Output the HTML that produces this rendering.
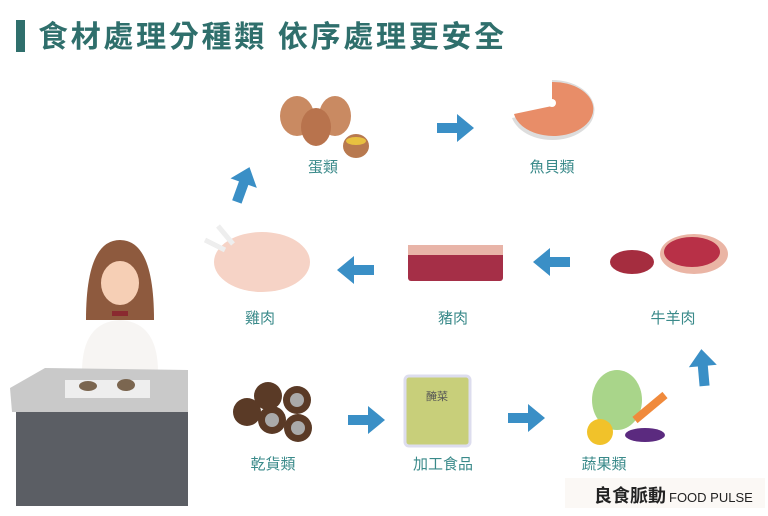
<!DOCTYPE html>
<html><head><meta charset="utf-8"><style>
body{margin:0;width:768px;height:516px;background:#fff;overflow:hidden;position:relative;font-family:"Liberation Sans","Noto Sans CJK TC",sans-serif}
.t{position:absolute;left:38px;top:12px;font-size:30px;font-weight:bold;color:#2f6f6c;letter-spacing:2.7px}
.bar{position:absolute;left:16px;top:20px;width:9px;height:32px;background:#2f6f6c}
.l{position:absolute;font-size:15px;color:#3a8a8a;transform:translateX(-50%);white-space:nowrap}
</style></head><body>
<div class="bar"></div>
<div class="t">食材處理分種類 依序處理更安全</div>
<svg width="768" height="516" style="position:absolute;left:0;top:0">
<defs>
<path id="ar" d="M-18,-5 L2,-5 L2,-14 L19,0 L2,14 L2,5 L-18,5 Z" fill="#3a8fc6"/>
</defs>
<use href="#ar" transform="translate(455,128)"/>
<use href="#ar" transform="translate(552,262) rotate(180)"/>
<use href="#ar" transform="translate(356,270) rotate(180)"/>
<use href="#ar" transform="translate(243,185) rotate(-70)"/>
<use href="#ar" transform="translate(366,420)"/>
<use href="#ar" transform="translate(526,418)"/>
<use href="#ar" transform="translate(703,368) rotate(-95)"/>
<ellipse cx="297" cy="116" rx="17" ry="20" fill="#c98a62"/>
<ellipse cx="335" cy="116" rx="16" ry="20" fill="#c98a62"/>
<ellipse cx="316" cy="127" rx="15" ry="19" fill="#b8734d"/>
<ellipse cx="356" cy="146" rx="13" ry="12" fill="#b8794f"/>
<ellipse cx="356" cy="141" rx="10" ry="4" fill="#e8c040"/>
<path d="M552,80 a42,30 0 1,1 -40,38 l40,-8z" fill="#ddd"/>
<path d="M552,82 a40,27 0 1,1 -38,32 l38,-8z" fill="#e88d68"/>
<circle cx="552" cy="103" r="4" fill="#fff"/>
<ellipse cx="262" cy="262" rx="48" ry="30" fill="#f6d3c6"/>
<path d="M205,240 l20,10 M218,226 l15,18" stroke="#eee" stroke-width="5"/>
<rect x="408" y="246" width="95" height="35" fill="#a52f47" rx="3"/>
<rect x="408" y="245" width="95" height="10" fill="#e8b4a8"/>
<ellipse cx="694" cy="254" rx="34" ry="20" fill="#eab5a5"/>
<ellipse cx="692" cy="252" rx="28" ry="15" fill="#b83047"/>
<ellipse cx="632" cy="262" rx="22" ry="12" fill="#a52d3f"/>
<path d="M86,320 q0,-80 34,-80 q34,0 34,80z" fill="#8e5a3e"/>
<ellipse cx="120" cy="283" rx="19" ry="22" fill="#f6cfb5"/>
<path d="M82,372 q0,-50 38,-52 q38,2 38,52z" fill="#f7f5f3"/>
<rect x="112" y="311" width="16" height="5" fill="#8a2a30"/>
<rect x="16" y="400" width="172" height="106" fill="#5b5e64"/>
<polygon points="10,388 45,368 188,370 188,412 12,412" fill="#c9c9c9"/>
<rect x="65" y="380" width="85" height="18" fill="#eee"/>
<ellipse cx="88" cy="386" rx="9" ry="5" fill="#7b6650"/>
<ellipse cx="126" cy="385" rx="9" ry="6" fill="#7b6650"/>
<circle cx="247" cy="412" r="14" fill="#5a3a26"/>
<circle cx="268" cy="396" r="14" fill="#5a3a26"/>
<circle cx="297" cy="400" r="14" fill="#5a3a26"/>
<circle cx="272" cy="420" r="14" fill="#5a3a26"/>
<circle cx="298" cy="428" r="14" fill="#5a3a26"/>
<circle cx="272" cy="420" r="7" fill="#aaa"/><circle cx="298" cy="428" r="7" fill="#aaa"/><circle cx="297" cy="400" r="7" fill="#aaa"/>
<rect x="405" y="376" width="65" height="70" fill="#c8cf7a" rx="4" stroke="#dde" stroke-width="3"/>
<text x="437" y="400" font-size="11" text-anchor="middle" fill="#555">醃菜</text>
<ellipse cx="617" cy="400" rx="25" ry="30" fill="#a9d58a"/>
<ellipse cx="600" cy="432" rx="13" ry="13" fill="#f1c22a"/>
<ellipse cx="645" cy="435" rx="20" ry="7" fill="#5b2a7f"/>
<path d="M635,420 l30,-25" stroke="#f08a3c" stroke-width="8"/>
<rect x="565" y="478" width="200" height="30" fill="#fbf8f5"/>
</svg>
<div class="l" style="left:323px;top:156px">蛋類</div>
<div class="l" style="left:552px;top:156px">魚貝類</div>
<div class="l" style="left:260px;top:307px">雞肉</div>
<div class="l" style="left:453px;top:307px">豬肉</div>
<div class="l" style="left:673px;top:307px">牛羊肉</div>
<div class="l" style="left:273px;top:453px">乾貨類</div>
<div class="l" style="left:443px;top:453px">加工食品</div>
<div class="l" style="left:604px;top:453px">蔬果類</div>
<div style="position:absolute;left:594px;top:482px;font-size:18px;font-weight:bold;color:#222">良食脈動<span style="font-size:13px;font-weight:normal;margin-left:3px">FOOD PULSE</span></div>
</body></html>
